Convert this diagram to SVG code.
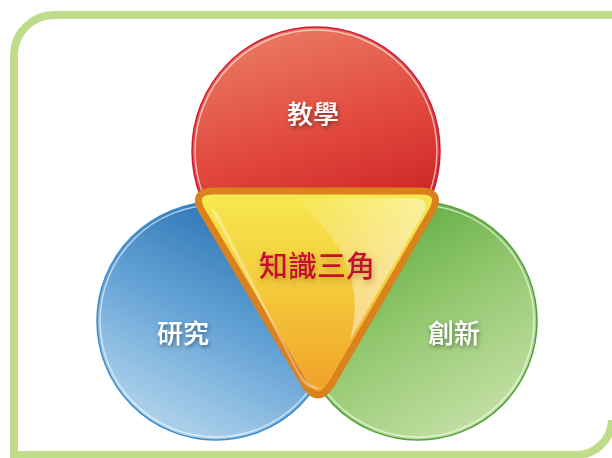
<svg xmlns="http://www.w3.org/2000/svg" width="612" height="458" viewBox="0 0 612 458">
<defs>
<linearGradient id="gRed" x1="0.3" y1="0" x2="0.6" y2="1">
<stop offset="0" stop-color="#ea7a62"/>
<stop offset="0.5" stop-color="#e0443a"/>
<stop offset="1" stop-color="#c2141c"/>
</linearGradient>
<linearGradient id="gBlue" x1="0.7" y1="0" x2="0.2" y2="1">
<stop offset="0" stop-color="#226cb0"/>
<stop offset="0.5" stop-color="#66a4d6"/>
<stop offset="1" stop-color="#bcdaf0"/>
</linearGradient>
<linearGradient id="gGreen" x1="0.2" y1="0" x2="0.8" y2="1">
<stop offset="0" stop-color="#55a638"/>
<stop offset="0.5" stop-color="#94c870"/>
<stop offset="1" stop-color="#c8e3aa"/>
</linearGradient>
<linearGradient id="gTri" x1="0" y1="0" x2="0" y2="1">
<stop offset="0" stop-color="#f6ea50"/>
<stop offset="0.5" stop-color="#f4c83a"/>
<stop offset="1" stop-color="#f0a028"/>
</linearGradient>
<linearGradient id="gShine" x1="0" y1="0" x2="1" y2="0.6">
<stop offset="0" stop-color="#ffffff" stop-opacity="0"/>
<stop offset="1" stop-color="#ffffff" stop-opacity="0.85"/>
</linearGradient>
<filter id="sh" x="-20%" y="-40%" width="140%" height="180%">
<feDropShadow dx="1" dy="2" stdDeviation="2" flood-color="#000" flood-opacity="0.45"/>
</filter>
<filter id="shy" x="-20%" y="-40%" width="140%" height="180%">
<feDropShadow dx="1" dy="3" stdDeviation="3" flood-color="#8a5a00" flood-opacity="0.5"/>
</filter>
</defs>
<style>
.lbl{font-family:"Noto Sans CJK TC","Noto Sans CJK SC",sans-serif;font-size:26px;font-weight:500;fill:#ffffff;text-anchor:middle;}
.rim{fill:none;stroke:#ffffff;stroke-opacity:0.6;stroke-width:1.5;}
</style>
<path d="M14,458 L14,55 A40,40 0 0 1 54,15 L612,15 M612,420 A36,36 0 0 1 574,455 L14,455" fill="none" stroke="#bfdc8a" stroke-width="8"/>
<g id="teaching">
<circle cx="316" cy="151" r="124" fill="url(#gRed)" stroke="#d21838" stroke-width="1.5"/>
<circle cx="316" cy="151" r="121" class="rim"/>
<text class="lbl" x="313" y="124" filter="url(#sh)">教學</text>
</g>
<g id="research">
<circle cx="216" cy="321" r="119" fill="url(#gBlue)" stroke="#3a8ccc" stroke-width="1.5"/>
<circle cx="216" cy="321" r="116" class="rim"/>
<text class="lbl" x="183" y="343" filter="url(#sh)">研究</text>
</g>
<g id="innovation">
<circle cx="418" cy="321" r="119" fill="url(#gGreen)" stroke="#4ea23a" stroke-width="1.5"/>
<circle cx="418" cy="321" r="116" class="rim"/>
<text class="lbl" x="454" y="343" filter="url(#sh)">創新</text>
</g>
<g id="knowledge-triangle">
<path d="M214,191 L420,191 Q443,191 432,211 L331,385 Q318,405 305,385 L202,211 Q191,191 214,191 Z" fill="url(#gTri)" stroke="#d9821e" stroke-width="7" stroke-linejoin="round"/>
<path d="M292,198 L414,198 Q431,199 423,214 L350,340 Q372,260 292,198 Z" fill="url(#gShine)" opacity="0.7"/>
<path d="M210,207 L300,378 Q308,392 322,388 Q306,386 298,370 L218,214 Z" fill="#ffffff" opacity="0.35"/>
<text x="317" y="277" font-family="'Noto Sans CJK TC','Noto Sans CJK SC',sans-serif" font-size="29" font-weight="500" fill="#c8102e" text-anchor="middle" filter="url(#shy)">知識三角</text>
</g>
<g id="connectors"/>
</svg>
